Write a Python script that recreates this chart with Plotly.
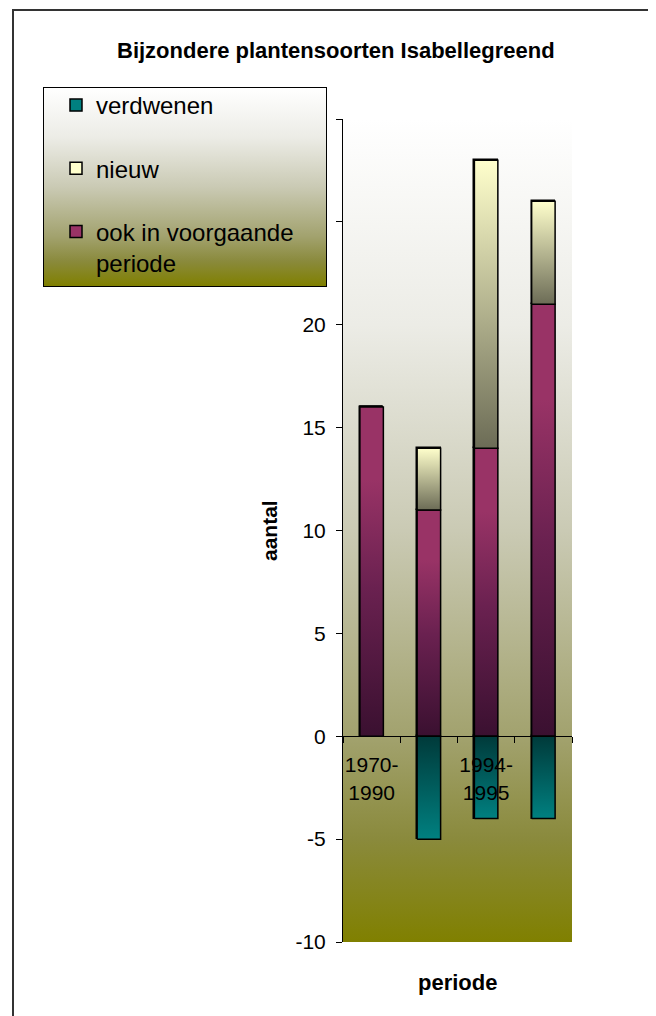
import plotly.graph_objects as go

# ---------------- data ----------------
title_text = "Bijzondere plantensoorten Isabellegreend"
periodes = ["1970-1990", "", "1994-1995", ""]
tick_labels = ["1970-<br>1990", "", "1994-<br>1995", ""]
ook = [16, 11, 14, 21]
nieuw = [0, 3, 14, 5]
verdwenen = [0, -5, -4, -4]
y_ticks = [-10, -5, 0, 5, 10, 15, 20, 25, 30]
y_tick_labels = ["-10", "-5", "0", "5", "10", "15", "20", "25", "30"]
name_ook = "ook in voorgaande<br>periode"
name_nieuw = "nieuw"
name_verd = "verdwenen"

# ---------------- geometry (page pixels) ----------------
W, H = 656, 1016
PAGE_OFF = 8                              # default body margin of the page
PL, PR, PT, PB = 343, 572, 119, 942      # plot area
LL, LR, LT, LB = 44, 326, 88, 286        # legend box
YMIN, YMAX = -10, 30
XMIN, XMAX = -0.5, len(periodes) - 0.5
BAR_W = 0.41
FONT = "Liberation Sans, Arial, sans-serif"


def fx(px):
    return (px - PAGE_OFF) / W


def fy(py):
    return 1 - (py - PAGE_OFF) / H


xdom = [fx(PL), fx(PR)]
ydom = [fy(PB), fy(PT)]
zero_pos = ydom[0] + (0 - YMIN) / (YMAX - YMIN) * (ydom[1] - ydom[0])

col_ook = "#993366"
col_nieuw = "#ffffcc"
col_verd = "#008080"
scale_ook = [[0, "#3a1030"], [0.45, "#6a2150"], [0.78, "#993366"], [1, "#993366"]]
scale_nieuw = [[0, "#6c6c56"], [1, "#ffffcc"]]
scale_verd = [[0, "#008080"], [1, "#003a3a"]]
scale_bg = [[0, "#808000"], [0.125, "#8a8a3c"], [0.25, "#a2a26e"],
            [0.5, "#cacab4"], [0.75, "#ececE6"], [1, "#ffffff"]]

fig = go.Figure()

# background gradient of the plot area (subplot xy, drawn first)
fig.add_trace(go.Scatter(
    x=[XMIN, XMAX, XMAX, XMIN, XMIN], y=[YMIN, YMIN, YMAX, YMAX, YMIN],
    xaxis="x", yaxis="y", mode="none", fill="toself",
    fillgradient=dict(type="vertical", colorscale=scale_bg),
    showlegend=False, hoverinfo="skip"))

xs = list(range(len(periodes)))

# real stacked bars (main subplot x2y2)
for vals, name, col, rank in [(ook, name_ook, col_ook, 3),
                              (nieuw, name_nieuw, col_nieuw, 2),
                              (verdwenen, name_verd, col_verd, 1)]:
    fig.add_trace(go.Bar(
        x=xs, y=vals, name=name, width=BAR_W, xaxis="x2", yaxis="y2",
        marker=dict(color=col, line=dict(color="black", width=1.5)),
        legendgroup=name, legendrank=rank))


def seg(i, y0, y1, scale):
    h = BAR_W / 2
    return go.Scatter(
        x=[i - h, i + h, i + h, i - h, i - h], y=[y0, y0, y1, y1, y0],
        xaxis="x2", yaxis="y2", mode="lines", fill="toself",
        line=dict(color="black", width=1.5),
        fillgradient=dict(type="vertical", colorscale=scale),
        showlegend=False, hoverinfo="skip")


# gradient overlays for each bar segment
for i in xs:
    if ook[i]:
        fig.add_trace(seg(i, 0, ook[i], scale_ook))
    if nieuw[i]:
        fig.add_trace(seg(i, ook[i], ook[i] + nieuw[i], scale_nieuw))
    if verdwenen[i]:
        fig.add_trace(seg(i, verdwenen[i], 0, scale_verd))

# legend box background (subplot x3y3, drawn last so it covers the top ticks)
fig.add_trace(go.Scatter(
    x=[0, 1, 1, 0, 0], y=[0, 0, 1, 1, 0], xaxis="x3", yaxis="y3",
    mode="none", fill="toself",
    fillgradient=dict(type="vertical", colorscale=scale_bg),
    showlegend=False, hoverinfo="skip"))

hidden = dict(visible=False, fixedrange=True)

fig.update_layout(
    width=W, height=H,
    margin=dict(l=0, r=0, t=0, b=0, autoexpand=False),
    paper_bgcolor="white", plot_bgcolor="rgba(0,0,0,0)",
    barmode="relative", bargap=0,
    font=dict(family=FONT, size=21, color="black"),
    showlegend=True,
    xaxis=dict(domain=xdom, range=[XMIN, XMAX], anchor="y", **hidden),
    yaxis=dict(domain=ydom, range=[YMIN, YMAX], anchor="x", **hidden),
    xaxis2=dict(domain=xdom, range=[XMIN, XMAX], anchor="free", position=zero_pos,
                showline=True, linecolor="black", linewidth=1,
                tickmode="array", tickvals=xs, ticktext=tick_labels, ticks="",
                ticklabelstandoff=10,
                minor=dict(tickmode="array", tickvals=[x - 0.5 for x in xs] + [XMAX],
                           ticks="outside", ticklen=6, tickcolor="black", tickwidth=1,
                           showgrid=False),
                showgrid=False, zeroline=False, fixedrange=True, automargin=False,
                tickfont=dict(family=FONT, size=21, color="black")),
    yaxis2=dict(domain=ydom, range=[YMIN, YMAX], anchor="x2",
                showline=True, linecolor="black", linewidth=1,
                tickmode="array", tickvals=y_ticks, ticktext=y_tick_labels,
                ticks="outside", ticklen=6, tickcolor="black",
                ticklabelstandoff=6, automargin=False,
                showgrid=False, zeroline=False, fixedrange=True,
                tickfont=dict(family=FONT, size=21, color="black")),
    xaxis3=dict(domain=[fx(LL), fx(LR)], range=[0, 1], anchor="y3",
                showline=True, mirror=True, linecolor="black", linewidth=1,
                showticklabels=False, ticks="", showgrid=False, zeroline=False,
                fixedrange=True),
    yaxis3=dict(domain=[fy(LB), fy(LT)], range=[0, 1], anchor="x3",
                showline=True, mirror=True, linecolor="black", linewidth=1,
                showticklabels=False, ticks="", showgrid=False, zeroline=False,
                fixedrange=True),
    legend=dict(x=fx(56), y=fy(83), xanchor="left", yanchor="top",
                bgcolor="rgba(0,0,0,0)", borderwidth=0,
                traceorder="grouped", tracegroupgap=29, valign="top",
                font=dict(family=FONT, size=24, color="black")),
    annotations=[
        dict(text="<b>" + title_text + "</b>", x=fx(336), y=fy(50), xref="paper",
             yref="paper", showarrow=False, xanchor="center", yanchor="middle",
             font=dict(family=FONT, size=22, color="black")),
        dict(text="<b>aantal</b>", x=fx(269), y=fy(531), xref="paper", yref="paper",
             showarrow=False, textangle=-90, xanchor="center", yanchor="middle",
             font=dict(family=FONT, size=21, color="black")),
        dict(text="<b>periode</b>", x=fx(457), y=fy(982), xref="paper", yref="paper",
             showarrow=False, xanchor="center", yanchor="middle",
             font=dict(family=FONT, size=22, color="black")),
    ],
    shapes=[
        dict(type="rect", xref="paper", yref="paper", x0=fx(13), x1=fx(651),
             y0=-0.05, y1=fy(10), line=dict(color="#333333", width=2),
             fillcolor="rgba(0,0,0,0)", layer="above"),
    ],
)

fig.write_html("out.html")
